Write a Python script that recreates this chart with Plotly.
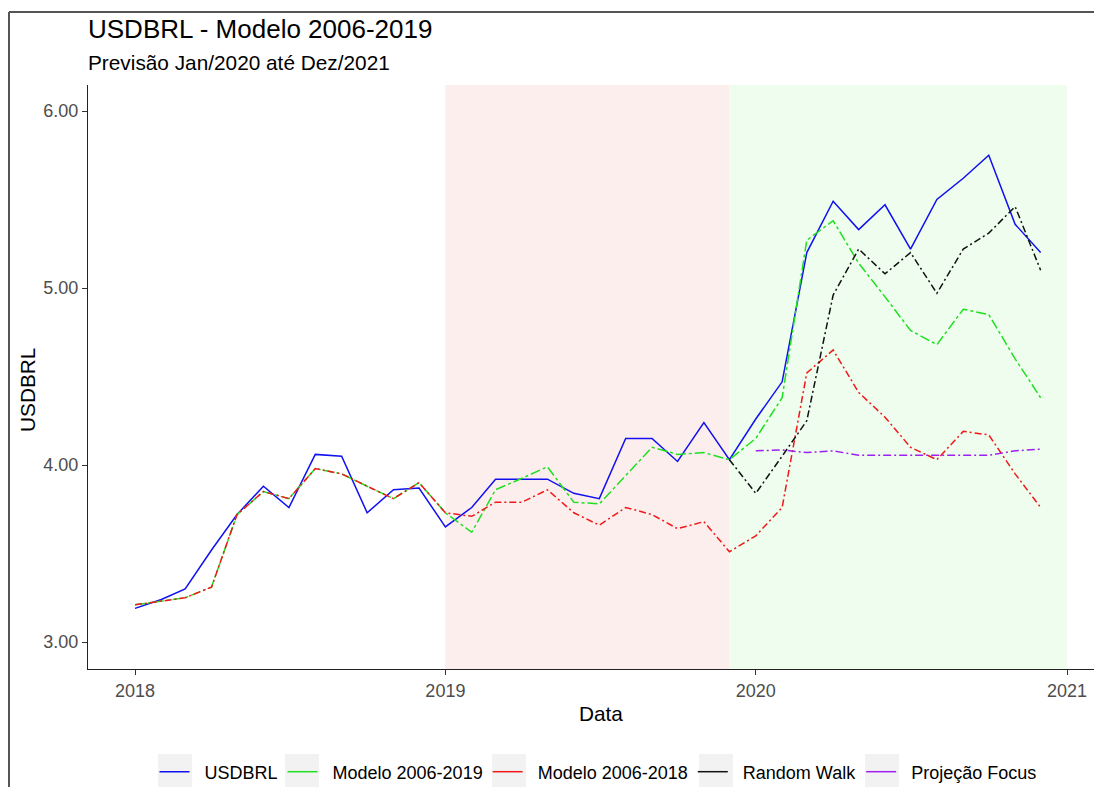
import pandas as pd
import plotly.graph_objects as go

# Monthly observations, Jan/2018 - Dec/2020
dates = pd.date_range("2018-01-01", "2020-12-01", freq="MS")

usdbrl = [3.19, 3.24, 3.30, 3.52, 3.72, 3.88, 3.76, 4.06, 4.05, 3.73, 3.86, 3.87,
          3.65, 3.76, 3.92, 3.92, 3.92, 3.84, 3.81, 4.15, 4.15, 4.02, 4.24, 4.03,
          4.26, 4.47, 5.20, 5.49, 5.33, 5.47, 5.22, 5.50, 5.62, 5.75, 5.36, 5.20]

modelo_2019 = [3.21, 3.23, 3.25, 3.31, 3.72, 3.85, 3.81, 3.98, 3.95, 3.88, 3.81, 3.90,
               3.73, 3.62, 3.86, 3.925, 3.99, 3.79, 3.78, 3.94, 4.10, 4.06, 4.07, 4.03,
               4.15, 4.38, 5.27, 5.38, 5.14, 4.95, 4.76, 4.68, 4.88, 4.85, 4.60, 4.38]

modelo_2018 = [3.21, 3.23, 3.25, 3.31, 3.72, 3.85, 3.81, 3.98, 3.95, 3.88, 3.81, 3.90,
               3.73, 3.71, 3.79, 3.79, 3.86, 3.73, 3.66, 3.76, 3.72, 3.64, 3.68, 3.51,
               3.60, 3.76, 4.52, 4.65, 4.41, 4.27, 4.10, 4.03, 4.19, 4.17, 3.95, 3.76]

random_walk = [None] * 23 + [4.03, 3.84, 4.05, 4.25, 4.96, 5.22, 5.08, 5.20, 4.97,
                             5.22, 5.31, 5.46, 5.10]

focus = [None] * 24 + [4.08, 4.085, 4.07, 4.08, 4.055, 4.055, 4.055, 4.055, 4.055,
                       4.055, 4.08, 4.09]

tick_years = ["2018", "2019", "2020", "2021"]
y_ticks = [3, 4, 5, 6]

# Shaded periods: 2019 validation window and forecast window
period_pink = ("2019-01-01", "2019-12-01")
period_green = ("2019-12-01", "2021-01-01")

series = [
    ("USDBRL", usdbrl, "#1010F0", "solid"),
    ("Modelo 2006-2019", modelo_2019, "#1FE01F", "10px,3px,3px,3px"),
    ("Modelo 2006-2018", modelo_2018, "#F01818", "7px,3px,2px,3px"),
    ("Random Walk", random_walk, "#111111", "7px,3px,2px,3px"),
    ("Projeção Focus", focus, "#A020F0", "8px,3px,2px,3px"),
]

NBSP = "\u00a0"

fig = go.Figure()
for rank, (name, vals, color, dash) in enumerate(series):
    # the drawn series, with its own line type
    fig.add_trace(go.Scatter(
        x=dates, y=vals, name=name, mode="lines", showlegend=False,
        legendgroup=name, line=dict(color=color, width=1.5, dash=dash),
        connectgaps=False,
    ))
    # legend key: colour only, drawn as a solid line
    fig.add_trace(go.Scatter(
        x=[None], y=[None], name=NBSP * 2 + name, mode="lines",
        legendgroup=name, legendrank=rank + 1, hoverinfo="skip",
        line=dict(color=color, width=1.5),
    ))

W, H = 1094, 787
ml, mr, mt, mb = 88, 0, 85, 118
pw = W - ml - mr
ph = H - mt - mb


def px_x(px):
    return (px - ml) / pw


def px_y(py):
    return (H - mb - py) / ph


# x range: 2018-01-01 sits at 135 px, 2021-01-01 at 1067 px
t0 = pd.Timestamp("2018-01-01")
t1 = pd.Timestamp("2021-01-01")
per_px = (t1 - t0) / (1067 - 135)
x_start = t0 - per_px * (135 - ml)
x_end = t1 + per_px * (W - mr - 1067)

fig.add_vrect(x0=period_pink[0], x1=period_pink[1], fillcolor="#FDEEEE",
              line_width=0, layer="below")
fig.add_vrect(x0=period_green[0], x1=period_green[1], fillcolor="#EEFDEE",
              line_width=0, layer="below")

font_family = "Liberation Sans, Arial, sans-serif"
tick_font = dict(family=font_family, size=18, color="#4D4D4D")

fig.update_xaxes(
    range=[x_start, x_end],
    tickvals=[pd.Timestamp(f"{y}-01-01") for y in tick_years],
    ticktext=tick_years,
    showline=True, linecolor="#222222", linewidth=1.3,
    ticks="outside", ticklen=5, tickcolor="#333333", tickwidth=1,
    showgrid=False, zeroline=False, tickfont=tick_font,
)
fig.update_yaxes(
    range=[3 - (H - mb - 642) / 177, 6 + (111 - mt) / 177],
    tickvals=y_ticks, tickformat=".2f",
    showline=True, linecolor="#222222", linewidth=1.3,
    ticks="outside", ticklen=5, tickcolor="#333333", tickwidth=1,
    showgrid=False, zeroline=False, tickfont=tick_font,
)

annotations = [
    dict(text="USDBRL - Modelo 2006-2019", x=px_x(86), y=px_y(29), xanchor="left",
         yanchor="middle", font=dict(size=26, color="black", family=font_family)),
    dict(text="Previsão Jan/2020 até Dez/2021", x=px_x(86), y=px_y(63), xanchor="left",
         yanchor="middle", font=dict(size=20.8, color="black", family=font_family)),
    dict(text="Data", x=px_x(601), y=px_y(713), xanchor="center", yanchor="middle",
         font=dict(size=20.8, color="black", family=font_family)),
    dict(text="USDBRL", x=px_x(27), y=px_y(390), xanchor="center", yanchor="middle",
         textangle=-90, font=dict(size=20.8, color="black", family=font_family)),
]
for a in annotations:
    a.update(xref="paper", yref="paper", showarrow=False)

# Outer frame (left and top edges)
frame = [
    dict(type="line", xref="paper", yref="paper", x0=px_x(9), x1=px_x(9),
         y0=px_y(12), y1=px_y(H + 5), line=dict(color="#555555", width=2)),
    dict(type="line", xref="paper", yref="paper", x0=px_x(9), x1=px_x(W + 5),
         y0=px_y(12), y1=px_y(12), line=dict(color="#555555", width=2)),
]

# Light grey backgrounds behind the legend keys
key_starts = [160, 287, 494, 701, 867]
key_boxes = [
    dict(type="rect", xref="paper", yref="paper", x0=px_x(s - 2), x1=px_x(s + 32),
         y0=px_y(H + 5), y1=px_y(754), fillcolor="#F2F2F2", line_width=0,
         layer="below")
    for s in key_starts
]

fig.update_layout(
    width=W, height=H,
    margin=dict(l=ml, r=mr, t=mt, b=mb, autoexpand=False),
    plot_bgcolor="white", paper_bgcolor="white",
    annotations=annotations,
    shapes=list(fig.layout.shapes) + frame + key_boxes,
    showlegend=True,
    legend=dict(
        orientation="h", x=px_x(598), xanchor="center", y=px_y(772), yanchor="middle",
        font=dict(size=18, color="black", family=font_family),
        itemwidth=30, tracegroupgap=0, bgcolor="rgba(0,0,0,0)",
    ),
    font=dict(family=font_family),
)

fig.write_html("out.html")
